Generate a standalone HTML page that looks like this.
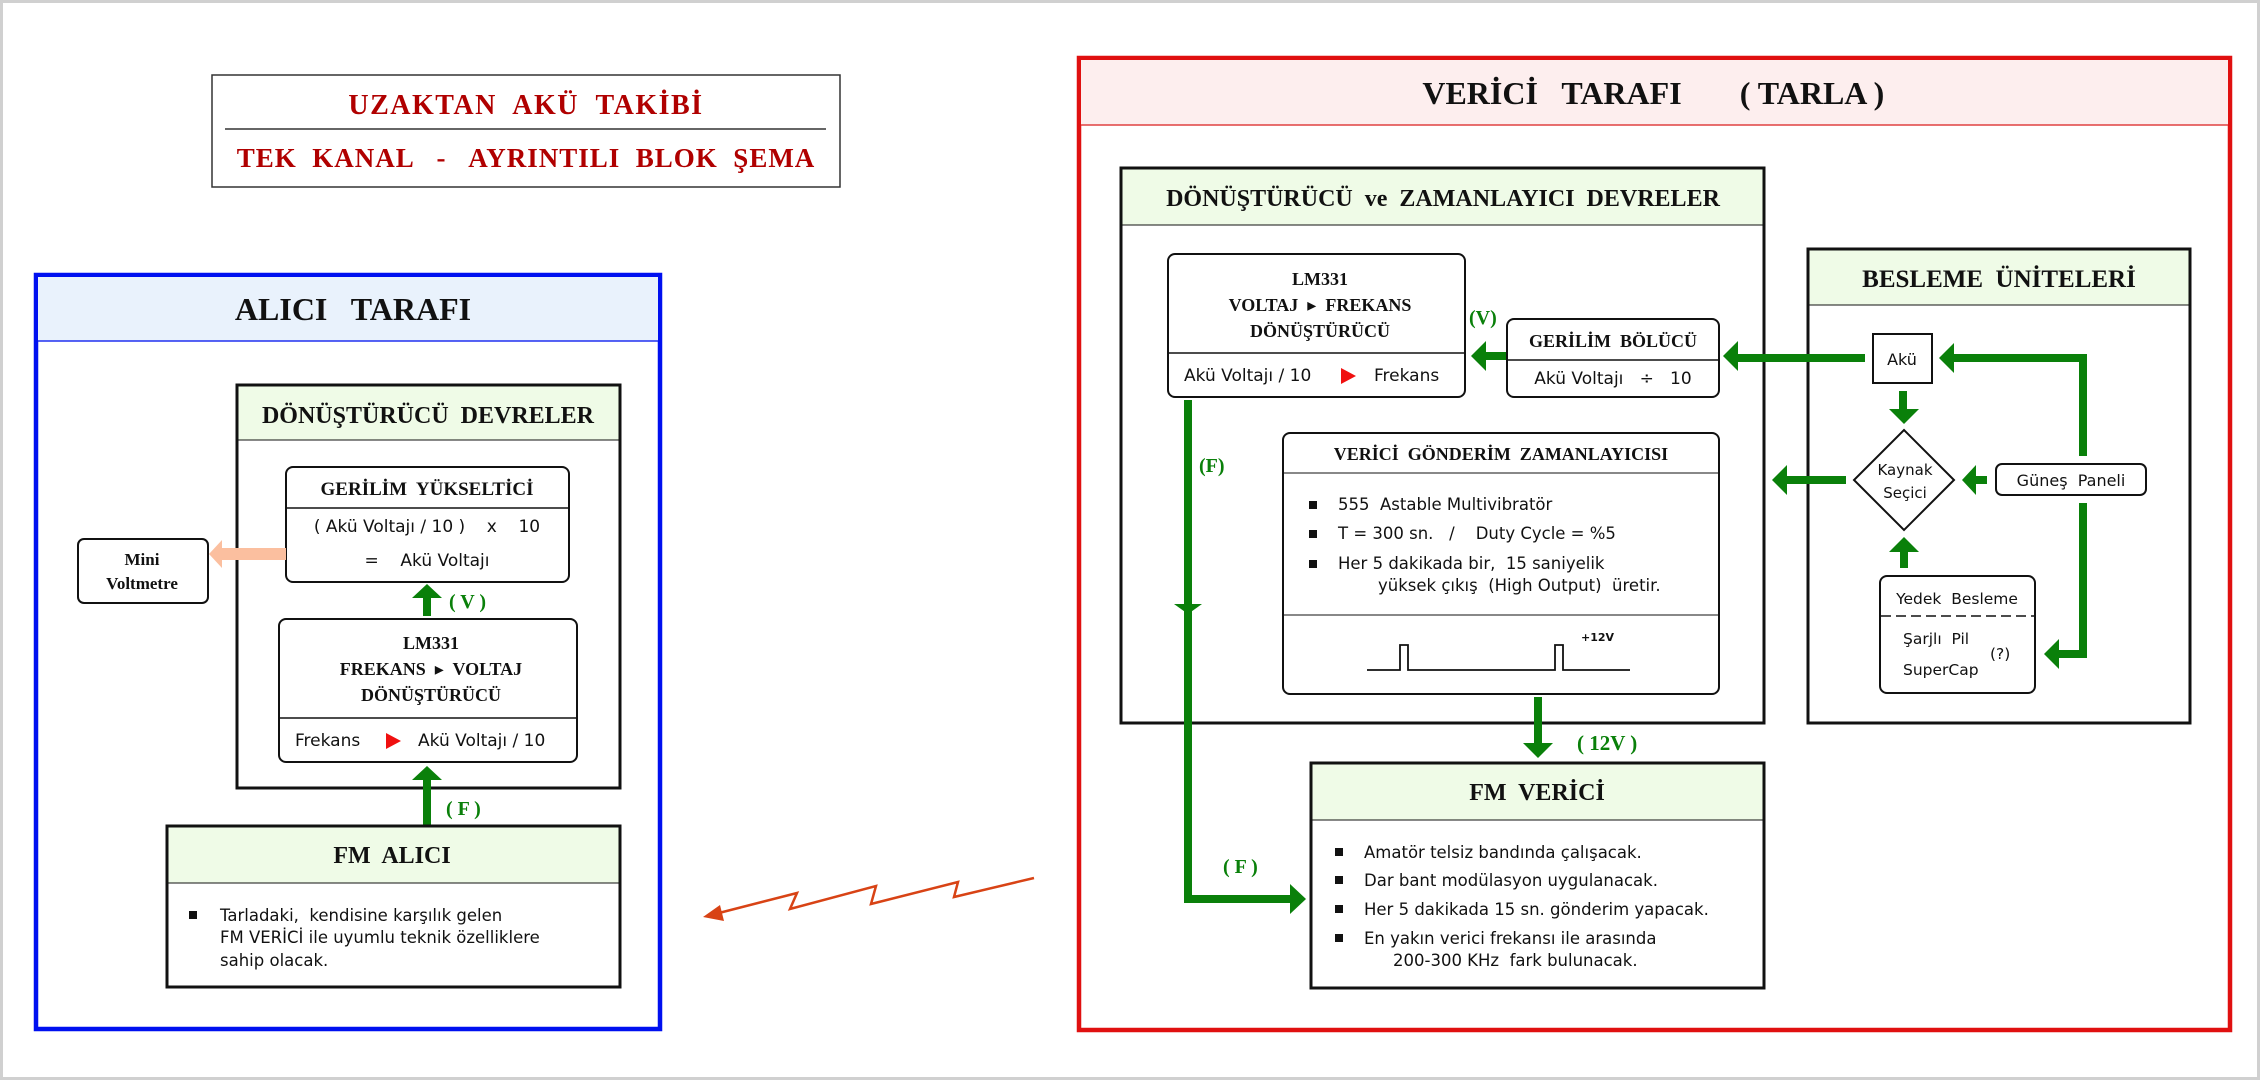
<!DOCTYPE html>
<html><head><meta charset="utf-8"><style>
html,body{margin:0;padding:0;background:#fff}
svg{display:block}
.s{font-family:"Liberation Serif","DejaVu Serif",serif;font-weight:bold;fill:#111}
.d{font-family:"DejaVu Sans","Liberation Sans",sans-serif;fill:#111}
.c{font-family:"DejaVu Sans","Liberation Sans",sans-serif;fill:#111}
.g{fill:#0a800a}
</style></head><body>
<svg width="2260" height="1080" viewBox="0 0 2260 1080" xmlns="http://www.w3.org/2000/svg">
<rect x="1.5" y="1.5" width="2257" height="1077" fill="#fff" stroke="#d0d0d0" stroke-width="3"/>

<!-- Title -->
<rect x="212" y="75" width="628" height="112" fill="#fff" stroke="#333" stroke-width="1.5"/>
<line x1="225" y1="129" x2="826" y2="129" stroke="#333" stroke-width="1.5"/>
<text x="526" y="114" text-anchor="middle" class="s" font-size="28" style="fill:#b00000" letter-spacing="1.5" xml:space="preserve">UZAKTAN  AKÜ  TAKİBİ</text>
<text x="526" y="167" text-anchor="middle" class="s" font-size="27" style="fill:#b00000" letter-spacing="1" xml:space="preserve">TEK  KANAL   -   AYRINTILI  BLOK  ŞEMA</text>

<!-- ALICI -->
<rect x="36" y="275" width="624" height="754" fill="#fff" stroke="#0010f0" stroke-width="4.5"/>
<rect x="38" y="277" width="620" height="64" fill="#e9f2fc"/>
<line x1="38" y1="341" x2="658" y2="341" stroke="#2030f0" stroke-width="1.5"/>
<text x="353" y="320" text-anchor="middle" class="s" font-size="32" xml:space="preserve">ALICI   TARAFI</text>

<rect x="237" y="385" width="383" height="403" fill="#fff" stroke="#111" stroke-width="3"/>
<rect x="238.5" y="386.5" width="380" height="53" fill="#effbe7"/>
<line x1="238" y1="440" x2="619" y2="440" stroke="#111" stroke-width="1"/>
<text x="428" y="423" text-anchor="middle" class="s" font-size="24" xml:space="preserve">DÖNÜŞTÜRÜCÜ  DEVRELER</text>

<rect x="286" y="467" width="283" height="115" rx="7" fill="#fff" stroke="#111" stroke-width="2"/>
<line x1="286" y1="508" x2="569" y2="508" stroke="#111" stroke-width="1.5"/>
<text x="427" y="495" text-anchor="middle" class="s" font-size="19" xml:space="preserve">GERİLİM  YÜKSELTİCİ</text>
<text x="427" y="532" text-anchor="middle" class="d" font-size="17" xml:space="preserve">( Akü Voltajı / 10 )    x    10</text>
<text x="427" y="566" text-anchor="middle" class="d" font-size="17" xml:space="preserve">=    Akü Voltajı</text>

<rect x="279" y="619" width="298" height="143" rx="7" fill="#fff" stroke="#111" stroke-width="2"/>
<line x1="279" y1="718" x2="577" y2="718" stroke="#111" stroke-width="1.5"/>
<text x="431" y="649" text-anchor="middle" class="s" font-size="18">LM331</text>
<text x="431" y="675" text-anchor="middle" class="s" font-size="18" xml:space="preserve">FREKANS  ▸  VOLTAJ</text>
<text x="431" y="701" text-anchor="middle" class="s" font-size="18">DÖNÜŞTÜRÜCÜ</text>
<text x="295" y="746" class="d" font-size="17">Frekans</text>
<polygon points="386,733 386,749 401,741" fill="#f01010"/>
<text x="418" y="746" class="d" font-size="17">Akü Voltajı / 10</text>

<rect x="423" y="597" width="8" height="19" class="g"/>
<polygon points="412,598 442,598 427,584" class="g"/>
<text x="449" y="608" class="s" font-size="20" style="fill:#0a800a" xml:space="preserve">( V )</text>
<rect x="423" y="778" width="8" height="48" class="g"/>
<polygon points="412,780 442,780 427,766" class="g"/>
<text x="446" y="815" class="s" font-size="20" style="fill:#0a800a" xml:space="preserve">( F )</text>

<rect x="78" y="539" width="130" height="64" rx="6" fill="#fff" stroke="#111" stroke-width="2"/>
<text x="142" y="565" text-anchor="middle" class="s" font-size="17">Mini</text>
<text x="142" y="589" text-anchor="middle" class="s" font-size="17">Voltmetre</text>
<rect x="221" y="548" width="65" height="12" fill="#fbbf9f"/>
<polygon points="222,540 222,568 209,554" fill="#fbbf9f"/>

<rect x="167" y="826" width="453" height="161" fill="#fff" stroke="#111" stroke-width="3"/>
<rect x="168.5" y="827.5" width="450" height="55" fill="#effbe7"/>
<line x1="168" y1="883" x2="619" y2="883" stroke="#111" stroke-width="1"/>
<text x="392" y="863" text-anchor="middle" class="s" font-size="24" xml:space="preserve">FM  ALICI</text>
<rect x="189" y="911" width="8" height="8" fill="#111"/>
<text x="220" y="921" class="d" font-size="16.5" xml:space="preserve">Tarladaki,  kendisine karşılık gelen</text>
<text x="220" y="943" class="d" font-size="16.5">FM VERİCİ ile uyumlu teknik özelliklere</text>
<text x="220" y="966" class="d" font-size="16.5">sahip olacak.</text>

<polyline points="1034,878 954,897 958,882 871,904 876,886 790,909 797,893 715,914" fill="none" stroke="#d84315" stroke-width="2.5"/>
<polygon points="703,917 720,905 724,921" fill="#d84315"/>

<!-- VERICI -->
<rect x="1079" y="58" width="1151" height="972" fill="#fff" stroke="#e01010" stroke-width="4.5"/>
<rect x="1081" y="60" width="1147" height="65" fill="#fdeeee"/>
<line x1="1081" y1="125" x2="2228" y2="125" stroke="#e04040" stroke-width="1.5"/>
<text x="1552" y="104" text-anchor="middle" class="s" font-size="32" xml:space="preserve">VERİCİ   TARAFI</text>
<text x="1812" y="104" text-anchor="middle" class="s" font-size="32" xml:space="preserve">( TARLA )</text>

<rect x="1121" y="168" width="643" height="555" fill="#fff" stroke="#111" stroke-width="3"/>
<rect x="1122.5" y="169.5" width="640" height="55" fill="#effbe7"/>
<line x1="1122" y1="225" x2="1763" y2="225" stroke="#111" stroke-width="1"/>
<text x="1443" y="206" text-anchor="middle" class="s" font-size="24" xml:space="preserve">DÖNÜŞTÜRÜCÜ  ve  ZAMANLAYICI  DEVRELER</text>

<rect x="1168" y="254" width="297" height="143" rx="7" fill="#fff" stroke="#111" stroke-width="2"/>
<line x1="1168" y1="353" x2="1465" y2="353" stroke="#111" stroke-width="1.5"/>
<text x="1320" y="285" text-anchor="middle" class="s" font-size="18">LM331</text>
<text x="1320" y="311" text-anchor="middle" class="s" font-size="18" xml:space="preserve">VOLTAJ  ▸  FREKANS</text>
<text x="1320" y="337" text-anchor="middle" class="s" font-size="18">DÖNÜŞTÜRÜCÜ</text>
<text x="1184" y="381" class="d" font-size="17">Akü Voltajı / 10</text>
<polygon points="1341,368 1341,384 1356,376" fill="#f01010"/>
<text x="1374" y="381" class="d" font-size="17">Frekans</text>

<text x="1469" y="324" class="s" font-size="20" style="fill:#0a800a">(V)</text>

<rect x="1507" y="319" width="212" height="78" rx="7" fill="#fff" stroke="#111" stroke-width="2"/>
<line x1="1507" y1="360" x2="1719" y2="360" stroke="#111" stroke-width="1.5"/>
<text x="1613" y="347" text-anchor="middle" class="s" font-size="18" xml:space="preserve">GERİLİM  BÖLÜCÜ</text>
<text x="1613" y="384" text-anchor="middle" class="d" font-size="17" xml:space="preserve">Akü Voltajı   ÷   10</text>

<rect x="1283" y="433" width="436" height="261" rx="7" fill="#fff" stroke="#111" stroke-width="2"/>
<line x1="1283" y1="473" x2="1719" y2="473" stroke="#111" stroke-width="1"/>
<line x1="1283" y1="615" x2="1719" y2="615" stroke="#111" stroke-width="1"/>
<text x="1501" y="460" text-anchor="middle" class="s" font-size="18" xml:space="preserve">VERİCİ  GÖNDERİM  ZAMANLAYICISI</text>
<rect x="1309" y="501" width="8" height="8" fill="#111"/>
<text x="1338" y="510" class="d" font-size="16.5" xml:space="preserve">555  Astable Multivibratör</text>
<rect x="1309" y="530" width="8" height="8" fill="#111"/>
<text x="1338" y="539" class="d" font-size="16.5" xml:space="preserve">T = 300 sn.   /    Duty Cycle = %5</text>
<rect x="1309" y="560" width="8" height="8" fill="#111"/>
<text x="1338" y="569" class="d" font-size="16.5" xml:space="preserve">Her 5 dakikada bir,  15 saniyelik</text>
<text x="1378" y="591" class="d" font-size="16.5" xml:space="preserve">yüksek çıkış  (High Output)  üretir.</text>
<polyline points="1367,670 1400,670 1400,645 1408,645 1408,670 1555,670 1555,645 1563,645 1563,670 1630,670" fill="none" stroke="#111" stroke-width="1.8"/>
<text x="1581" y="641" class="d" font-size="11" font-weight="bold">+12V</text>

<rect x="1534" y="697" width="8" height="48" class="g"/>
<polygon points="1523,743 1553,743 1538,758" class="g"/>
<text x="1577" y="750" class="s" font-size="21" style="fill:#0a800a" xml:space="preserve">( 12V )</text>

<rect x="1311" y="763" width="453" height="225" fill="#fff" stroke="#111" stroke-width="3"/>
<rect x="1312.5" y="764.5" width="450" height="55" fill="#effbe7"/>
<line x1="1312" y1="820" x2="1763" y2="820" stroke="#111" stroke-width="1"/>
<text x="1537" y="800" text-anchor="middle" class="s" font-size="24" xml:space="preserve">FM  VERİCİ</text>
<rect x="1335" y="848" width="8" height="8" fill="#111"/>
<text x="1364" y="858" class="d" font-size="16.5">Amatör telsiz bandında çalışacak.</text>
<rect x="1335" y="876" width="8" height="8" fill="#111"/>
<text x="1364" y="886" class="d" font-size="16.5">Dar bant modülasyon uygulanacak.</text>
<rect x="1335" y="905" width="8" height="8" fill="#111"/>
<text x="1364" y="915" class="d" font-size="16.5">Her 5 dakikada 15 sn. gönderim yapacak.</text>
<rect x="1335" y="934" width="8" height="8" fill="#111"/>
<text x="1364" y="944" class="d" font-size="16.5">En yakın verici frekansı ile arasında</text>
<text x="1393" y="966" class="d" font-size="16.5" xml:space="preserve">200-300 KHz  fark bulunacak.</text>

<polyline points="1188,400 1188,899 1292,899" fill="none" stroke="#0a800a" stroke-width="8"/>
<polygon points="1290,884 1290,914 1306,899" class="g"/>
<polygon points="1174,604 1202,604 1188,614" class="g"/>
<text x="1199" y="472" class="s" font-size="20" style="fill:#0a800a">(F)</text>
<text x="1223" y="873" class="s" font-size="20" style="fill:#0a800a" xml:space="preserve">( F )</text>

<rect x="1808" y="249" width="382" height="474" fill="#fff" stroke="#111" stroke-width="3"/>
<rect x="1809.5" y="250.5" width="379" height="54" fill="#effbe7"/>
<line x1="1809" y1="305" x2="2189" y2="305" stroke="#111" stroke-width="1"/>
<text x="1999" y="287" text-anchor="middle" class="s" font-size="25" xml:space="preserve">BESLEME  ÜNİTELERİ</text>

<rect x="1873" y="334" width="59" height="49" fill="#fff" stroke="#111" stroke-width="2"/>
<text x="1902" y="365" text-anchor="middle" class="c" font-size="16">Akü</text>
<polygon points="1904,430 1954,480 1904,530 1854,480" fill="#fff" stroke="#111" stroke-width="2"/>
<text x="1905" y="475" text-anchor="middle" class="c" font-size="15">Kaynak</text>
<text x="1905" y="498" text-anchor="middle" class="c" font-size="15">Seçici</text>
<rect x="1996" y="464" width="150" height="31" rx="6" fill="#fff" stroke="#111" stroke-width="2"/>
<text x="2071" y="486" text-anchor="middle" class="c" font-size="16" xml:space="preserve">Güneş  Paneli</text>
<rect x="1880" y="576" width="155" height="117" rx="7" fill="#fff" stroke="#111" stroke-width="2"/>
<line x1="1881" y1="616" x2="2034" y2="616" stroke="#111" stroke-width="1.5" stroke-dasharray="10,5"/>
<text x="1957" y="604" text-anchor="middle" class="c" font-size="15.5" xml:space="preserve">Yedek  Besleme</text>
<text x="1903" y="644" class="c" font-size="15.5" xml:space="preserve">Şarjlı  Pil</text>
<text x="1903" y="675" class="c" font-size="15.5">SuperCap</text>
<text x="1990" y="659" class="c" font-size="15.5">(?)</text>

<rect x="1737" y="354" width="128" height="8" class="g"/>
<polygon points="1738,341 1738,371 1723,356" class="g"/>
<rect x="1485" y="352" width="21" height="8" class="g"/>
<polygon points="1486,341 1486,371 1471,356" class="g"/>
<rect x="1899" y="391" width="8" height="20" class="g"/>
<polygon points="1889,409 1919,409 1904,424" class="g"/>
<rect x="1785" y="476" width="61" height="8" class="g"/>
<polygon points="1787,465 1787,495 1772,480" class="g"/>
<rect x="1974" y="476" width="13" height="8" class="g"/>
<polygon points="1976,465 1976,495 1962,480" class="g"/>
<polyline points="2083,456 2083,358 1952,358" fill="none" stroke="#0a800a" stroke-width="8"/>
<polygon points="1954,343 1954,373 1939,358" class="g"/>
<polyline points="2083,503 2083,654 2056,654" fill="none" stroke="#0a800a" stroke-width="8"/>
<polygon points="2059,639 2059,669 2044,654" class="g"/>
<rect x="1900" y="550" width="8" height="18" class="g"/>
<polygon points="1889,552 1919,552 1904,537" class="g"/>
</svg>
</body></html>
